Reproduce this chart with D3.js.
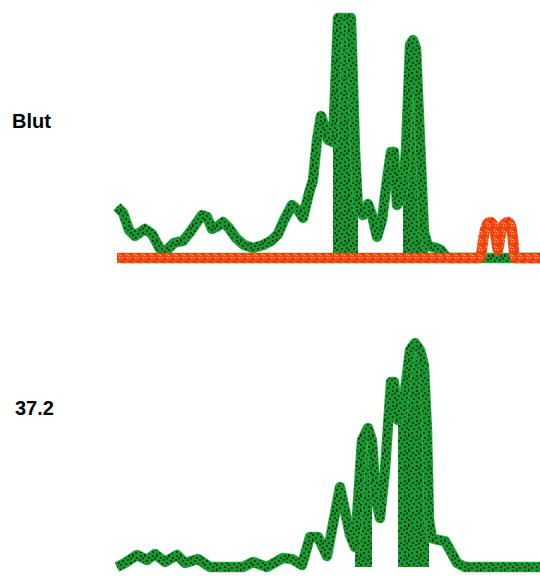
<!DOCTYPE html>
<html>
<head>
<meta charset="utf-8">
<script src="https://cdn.jsdelivr.net/npm/d3@7/dist/d3.min.js"></script>
<style>
  body { margin: 0; background: #fff; }
  text { font-family: "Liberation Sans", Arial, sans-serif; font-weight: bold; }
</style>
</head>
<body>
<div id="wrapper"></div>
<script>
// panel labels
const panelLabels = ["Blut", "37.2"];

// top panel (Blut): green trace, migration position vs. intensity
const bloodPos = [0, 3, 6, 9, 14, 17.5, 21.5, 24.5, 28.5, 33, 37, 42.5, 45, 47.5, 50.5, 53, 56, 59.5, 63.5, 68, 73, 77, 80.5, 83.5, 87.5, 90.5, 93, 96, 98, 100, 102, 104, 105.5, 108, 110.5, 117, 119, 120.5, 123, 125.5, 127.5, 130, 132.5, 135, 137, 138.5, 140, 141.5, 143, 144.5, 146.5, 148, 149.5, 151.5, 153.5, 155.5, 159.5, 162, 165, 211.5];
const bloodIntensity = [21.3, 18.8, 11.7, 9.2, 12.1, 10, 3.8, 2.9, 6.3, 7.1, 11.3, 17.9, 17.1, 12.1, 13.3, 15, 12.5, 8.3, 5.4, 4.2, 5.4, 7.1, 10, 15.8, 22.1, 20, 16.7, 27.1, 32.5, 49.2, 59.2, 54.2, 49.2, 48.3, 100, 100, 45, 20.8, 17.9, 22.5, 17.9, 8.8, 15.8, 32.5, 44.2, 44.2, 22.1, 24.2, 28.3, 45, 88.8, 90.8, 87.5, 49.2, 10.8, 5, 4.2, 3.3, 0, 0];
const bloodBands = [[108, 120.5], [143, 155.5]];

// top panel: red reference trace
const refPos = [0, 181.5, 183.5, 185, 186.5, 188, 189.5, 190.5, 191.5, 193.5, 195.5, 197, 198, 199, 211.5];
const refIntensity = [0, 0, 9.6, 14, 15, 14, 8.3, 3.3, 8.3, 14, 15, 13.3, 7.5, 0, 0];

// bottom panel (37.2): green trace
const samplePos = [0, 4, 10, 15, 19, 24, 30, 34, 40.5, 46.5, 63, 68, 75, 83, 87.5, 92.5, 96.5, 100.5, 105, 111.5, 116.5, 119, 122.5, 125.5, 127.5, 129.5, 131.5, 134, 137, 138.5, 140.5, 142.5, 146.5, 149, 151.5, 153.5, 155, 156, 157.5, 160.5, 164, 166.5, 170, 174, 211.5];
const sampleIntensity = [0, 1.7, 5, 2.9, 5.4, 2.1, 5, 1.7, 3.3, 0, 0, 2.1, 0, 3.8, 3.3, 0.8, 12.5, 12.5, 4.6, 33.3, 13.3, 8.3, 52.9, 57.9, 52.9, 27.9, 20.4, 40.4, 77.1, 77.1, 61.3, 63.3, 90.4, 93.3, 90.4, 84, 57, 19.6, 12, 11.3, 10.8, 7.1, 1.7, 0, 0];
const sampleBands = [[118.5, 127.5], [140.5, 156]];

const dimensions = {
  width: 540,
  height: 577,
  margin: { left: 117, right: 0 },
};

const svg = d3
  .select("#wrapper")
  .append("svg")
  .attr("width", dimensions.width)
  .attr("height", dimensions.height);

// stipple textures
const defs = svg.append("defs");
const greenDots = [[1, 1], [5, 3], [9, 1], [3, 6], [8, 5], [11, 8], [1, 10], [6, 9], [9, 12], [4, 13], [0.5, 14.5], [11, 3.5]];
const gp = defs.append("pattern")
  .attr("id", "green")
  .attr("width", 12).attr("height", 15)
  .attr("patternUnits", "userSpaceOnUse");
gp.append("rect").attr("width", 12).attr("height", 15).attr("fill", "#1b9732");
gp.selectAll("circle").data(greenDots).join("circle")
  .attr("cx", (d) => d[0]).attr("cy", (d) => d[1]).attr("r", 0.95)
  .attr("fill", "#08200c");

const redDots = [[1, 1, "#ffc21a"], [4, 3, "#d91a08"], [7, 1, "#ffd23a"], [2, 5, "#e0240a"], [6, 6, "#ffb000"], [0, 7, "#ffcf30"], [5, 4, "#f86018"]];
const rp = defs.append("pattern")
  .attr("id", "red")
  .attr("width", 8).attr("height", 8)
  .attr("patternUnits", "userSpaceOnUse");
rp.append("rect").attr("width", 8).attr("height", 8).attr("fill", "#f2461a");
rp.selectAll("rect.d").data(redDots).join("rect")
  .attr("class", "d")
  .attr("x", (d) => d[0]).attr("y", (d) => d[1])
  .attr("width", 1.4).attr("height", 1.4)
  .attr("fill", (d) => d[2]);

const xScale = d3
  .scaleLinear()
  .domain([0, 212])
  .range([dimensions.margin.left, dimensions.width - dimensions.margin.right + 1]);

function drawPanel(pos, values, bands, yRange, label, labelX, labelY) {
  const yScale = d3.scaleLinear().domain([0, 100]).range(yRange);
  const pts = pos.map((p, i) => ({ x: p, y: values[i] }));

  const lineGenerator = d3.line()
    .x((d) => xScale(d.x))
    .y((d) => yScale(d.y));
  const areaGenerator = d3.area()
    .x((d) => xScale(d.x))
    .y0(yScale(0))
    .y1((d) => yScale(d.y));

  const g = svg.append("g");

  // filled bands
  bands.forEach(([a, b]) => {
    const seg = pts.filter((d) => d.x >= a && d.x <= b);
    g.append("path")
      .attr("d", areaGenerator(seg))
      .attr("fill", "url(#green)");
  });

  // light rim then stippled stroke
  g.append("path")
    .attr("d", lineGenerator(pts))
    .attr("fill", "none")
    .attr("stroke", "#2bb44a")
    .attr("stroke-width", 10.5)
    .attr("stroke-linejoin", "round");
  g.append("path")
    .attr("d", lineGenerator(pts))
    .attr("fill", "none")
    .attr("stroke", "url(#green)")
    .attr("stroke-width", 9)
    .attr("stroke-linejoin", "round");

  svg.append("text")
    .attr("x", labelX)
    .attr("y", labelY)
    .attr("font-size", 20)
    .attr("fill", "#000")
    .text(label);

  return yScale;
}

const topY = drawPanel(bloodPos, bloodIntensity, bloodBands, [258, 18], panelLabels[0], 12, 128);
drawPanel(samplePos, sampleIntensity, sampleBands, [567, 327], panelLabels[1], 15, 415);

// red reference trace on top of the blood panel
const refPts = refPos.map((p, i) => ({ x: p, y: refIntensity[i] }));
const refLine = d3.line()
  .x((d) => xScale(d.x))
  .y((d) => topY(d.y))
  .curve(d3.curveMonotoneX);
svg.append("path")
  .attr("d", refLine(refPts))
  .attr("fill", "none")
  .attr("stroke", "url(#red)")
  .attr("stroke-width", 10.5)
  .attr("stroke-linejoin", "round");
</script>
</body>
</html>
